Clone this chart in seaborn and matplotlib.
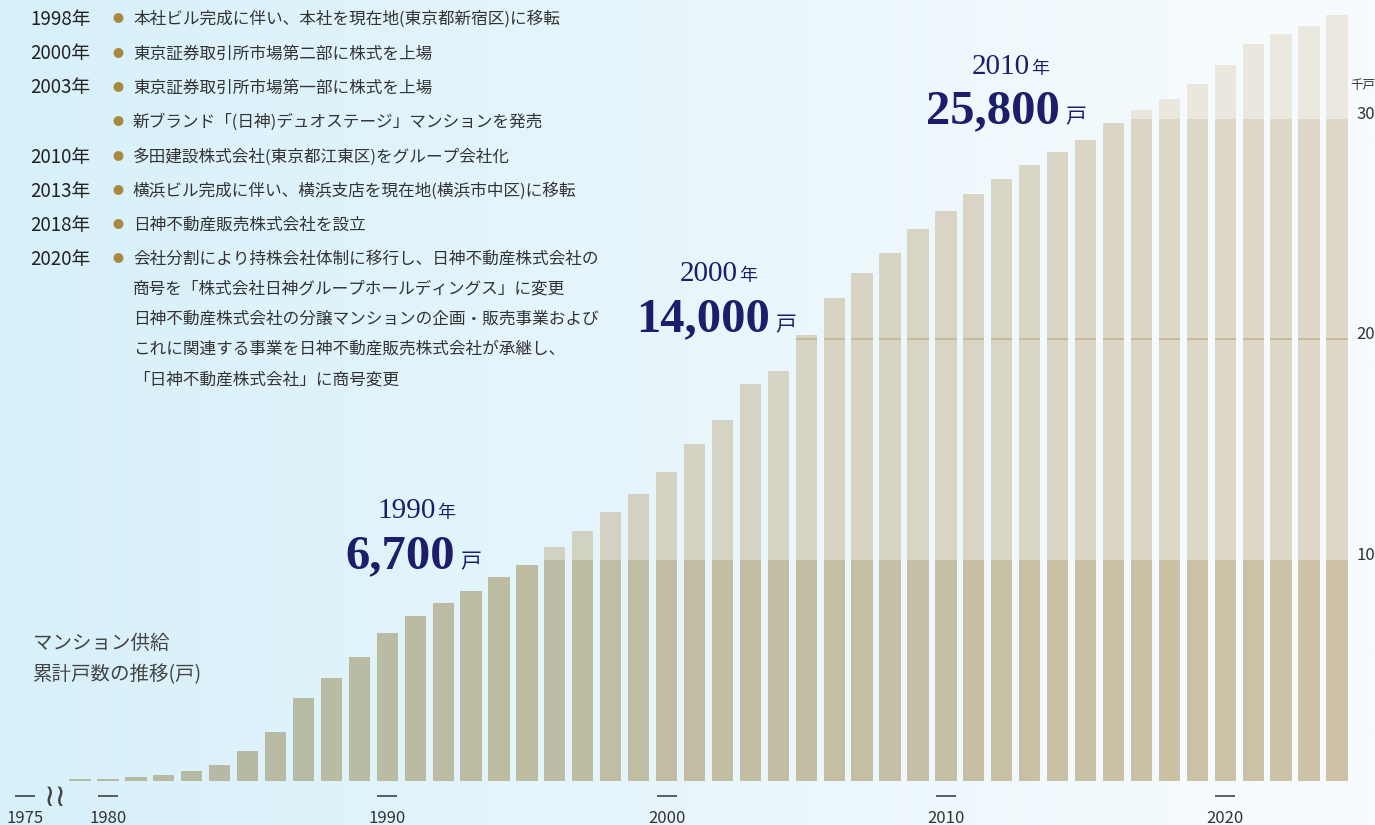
import numpy as np
import pandas as pd
import matplotlib
matplotlib.use("Agg")
import matplotlib.pyplot as plt
import matplotlib.transforms as mtransforms
from matplotlib.colors import to_rgb
import seaborn as sns

# ---------------- data ----------------
years = list(range(1979, 2025))
units = [60, 90, 180, 280, 450, 710, 1350, 2210, 3760, 4670, 5620,
         6700, 7440, 8030, 8580, 9210, 9760, 10580, 11320, 12190, 13000,
         14000, 15270, 16360, 17990, 18580, 20210, 21850, 23000, 23900, 25000,
         25800, 26600, 27250, 27900, 28500, 29050, 29800, 30400, 30900, 31550,
         32450, 33400, 33850, 34200, 34700]

tick_labels = ["1975", "1980", "1990", "2000", "2010", "2020"]
tick_years = [1977.03, 1980, 1990, 2000, 2010, 2020]   # 1975 sits left of the axis break
y_ticks = [10, 20, 30]
y_unit = "千戸"

callout_years = ["1990", "2000", "2010"]
callout_values = ["6,700", "14,000", "25,800"]

history_years = ["1998年", "2000年", "2003年", "", "2010年", "2013年", "2018年", "2020年"]
history_items = [
    "本社ビル完成に伴い、本社を現在地(東京都新宿区)に移転",
    "東京証券取引所市場第二部に株式を上場",
    "東京証券取引所市場第一部に株式を上場",
    "新ブランド「(日神)デュオステージ」マンションを発売",
    "多田建設株式会社(東京都江東区)をグループ会社化",
    "横浜ビル完成に伴い、横浜支店を現在地(横浜市中区)に移転",
    "日神不動産販売株式会社を設立",
    "会社分割により持株会社体制に移行し、日神不動産株式会社の",
]
history_cont = [
    "商号を「株式会社日神グループホールディングス」に変更",
    "日神不動産株式会社の分譲マンションの企画・販売事業および",
    "これに関連する事業を日神不動産販売株式会社が承継し、",
    "「日神不動産株式会社」に商号変更",
]
chart_title = ["マンション供給", "累計戸数の推移(戸)"]

# ---------------- style ----------------
sns.set_style("white")
plt.rcParams["font.family"] = ["Noto Sans CJK JP", "DejaVu Sans"]

W, H = 1375, 825
fig = plt.figure(figsize=(W / 100, H / 100), dpi=100)


def px(x, y):
    return x / W, 1 - y / H


# background gradient
bg = fig.add_axes([0, 0, 1, 1], zorder=0)
g = np.linspace(0, 1, 512)
c0 = np.array(to_rgb("#d7f0fa"))
c1 = np.array(to_rgb("#f9fcfe"))
img = (c0[None, :] * (1 - g[:, None]) + c1[None, :] * g[:, None])[None, :, :]
bg.imshow(img, extent=[0, 1, 0, 1], aspect="auto")
bg.axis("off")

# main axes
base_px = 780.7
px_per_k = 22.07
right_px = 1350
ax = fig.add_axes([0, (H - base_px) / H, right_px / W, base_px / H], zorder=1)
ax.patch.set_alpha(0)

df = pd.DataFrame({"year": years, "k": np.array(units) / 1000.0})
df["label"] = df["year"].astype(str)
n = len(df)
t = np.linspace(0, 1, n)


def grad(a, b):
    a, b = np.array(to_rgb(a)), np.array(to_rgb(b))
    return [tuple(a * (1 - s) + b * s) for s in t]


dark = grad("#b4b9a2", "#cdc2a6")
mid = grad("#cacebe", "#dfd8c8")
light = grad("#dcdfd4", "#ebe8df")
line_c = ["#c6ba98"] * n

layers = [
    (df["k"], light),
    (np.minimum(df["k"], 30), mid),
    (np.minimum(df["k"], 20.04), line_c),
    (np.minimum(df["k"], 19.96), mid),
    (np.minimum(df["k"], 10), dark),
]
for heights, cols in layers:
    sns.barplot(x=df["year"], y=heights, hue=df["label"],
                palette=dict(zip(df["label"], cols)), native_scale=True,
                width=0.76, dodge=False, errorbar=None, legend=False,
                saturation=1, linewidth=0, edgecolor="none", ax=ax)

x_left = 1980 - 108 / 27.93
x_right = 1980 + (right_px - 108) / 27.93
ax.set_xlim(x_left, x_right)
ax.set_ylim(0, base_px / px_per_k)
for s in ax.spines.values():
    s.set_visible(False)
ax.set_xlabel("")

ax.set_xticks(tick_years)
ax.set_xticklabels(tick_labels)
ax.tick_params(axis="x", length=0, pad=21, labelsize=12, labelcolor="#333333")

ax.yaxis.tick_right()
ax.set_yticks(y_ticks)
ax.set_yticklabels([str(v) for v in y_ticks])
ax.tick_params(axis="y", length=0, pad=4.5, labelsize=12, labelcolor="#333333")
for lab in ax.get_yticklabels():
    lab.set_va("baseline")
ax.yaxis.set_label_position("right")
ax.set_ylabel(y_unit, rotation=0, fontsize=9, color="#333333", ha="center", va="center")
ax.yaxis.set_label_coords((1363) / right_px, (base_px - 85) / base_px)

# tick dashes and axis break
trans = mtransforms.blended_transform_factory(ax.transData, ax.transAxes)
ax.plot(tick_years, [(base_px - 796) / base_px] * len(tick_years), linestyle="none",
        marker="_", markersize=15, markeredgewidth=1.1, color="#333333",
        transform=trans, clip_on=False)
ax.text(1978.1, (base_px - 797) / base_px, "≀≀", transform=trans, ha="center",
        va="center", fontsize=22, color="#444444", family=["DejaVu Sans"])

# callouts
navy = "#1e1d6c"
call_pos = [  # (year right x, year baseline, value right x, value baseline)
    (436, 518, 455, 568),
    (738, 281, 770, 331),
    (1030, 74, 1060, 123),
]
for (yx, yb, vx, vb), yr, val in zip(call_pos, callout_years, callout_values):
    fig.text(*px(yx, yb), yr, ha="right", va="baseline", fontsize=21,
             family="Liberation Serif", color=navy)
    fig.text(*px(yx + 1, yb), "年", ha="left", va="baseline", fontsize=13, color=navy)
    fig.text(*px(vx, vb), val, ha="right", va="baseline", fontsize=35,
             family="Liberation Serif", weight="bold", color=navy)
    fig.text(*px(vx + 5, vb), "戸", ha="left", va="baseline", fontsize=15, color=navy)

# history list
txt_c = "#333333"
row_y = [19, 54, 88, 122, 157, 191, 225, 259]
for yv, yr, item in zip(row_y, history_years, history_items):
    if yr:
        fig.text(*px(30, yv), yr, ha="left", va="center", fontsize=13.5, color="#222222")
    fig.text(*px(118, yv), "●", ha="center", va="center", fontsize=8, color="#a8873f")
    fig.text(*px(133, yv), item, ha="left", va="center", fontsize=12, color=txt_c)
for yv, line in zip([289, 319, 349, 380], history_cont):
    fig.text(*px(133, yv), line, ha="left", va="center", fontsize=12, color=txt_c)

fig.text(*px(33, 643), chart_title[0], ha="left", va="center", fontsize=14, color="#444444")
fig.text(*px(33, 675), chart_title[1], ha="left", va="center", fontsize=14, color="#444444")

fig.savefig("out.png", dpi=100)
